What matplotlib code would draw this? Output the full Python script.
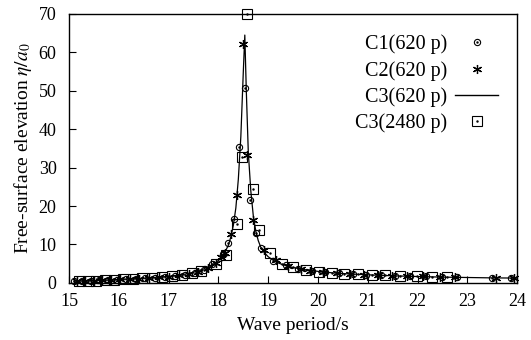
import matplotlib
matplotlib.use("Agg")
import matplotlib.pyplot as plt
from matplotlib.lines import Line2D

plt.rcParams["font.family"] = ["Liberation Serif", "DejaVu Serif"]
plt.rcParams["mathtext.fontset"] = "stix"

# C3 (620 p) - solid line
line_T = [15.1, 15.5, 16.0, 16.5, 17.0, 17.3, 17.5, 17.7, 17.9, 18.0, 18.1, 18.2, 18.25,
          18.3, 18.35, 18.4, 18.45, 18.5, 18.53, 18.56, 18.6, 18.65, 18.7, 18.75, 18.8,
          18.85, 18.9, 19.0, 19.1, 19.2, 19.3, 19.5, 19.7, 20.0, 20.3, 20.6, 21.0, 21.5,
          22.0, 22.5, 23.0, 23.5, 24.0]
line_eta = [0.5, 0.6, 0.9, 1.2, 1.7, 2.2, 2.8, 3.6, 4.9, 5.8, 7.2, 9.8, 12.0,
            15.0, 19.5, 27.0, 38.0, 55.0, 64.5, 50.0, 34.0, 24.0, 17.5, 13.5, 11.0,
            9.3, 8.2, 6.8, 5.9, 5.2, 4.7, 4.0, 3.5, 3.0, 2.6, 2.35, 2.1, 1.85,
            1.65, 1.5, 1.4, 1.3, 1.25]

# C1 (620 p) - circles
c1_T = [15.10, 15.27, 15.44, 15.61, 15.79, 15.97, 16.15, 16.34, 16.53, 16.72, 16.92, 17.12,
        17.32, 17.52, 17.72, 17.88, 18.09, 18.19, 18.31, 18.41, 18.53, 18.63, 18.76, 18.86,
        19.10, 19.35, 19.60, 19.88, 20.15, 20.43, 20.70, 20.97, 21.26, 21.54, 21.84, 22.16,
        22.50, 22.80, 23.50, 23.87]
c1_eta = [0.5, 0.55, 0.6, 0.65, 0.75, 0.85, 0.95, 1.05, 1.2, 1.35, 1.55, 1.8,
          2.1, 2.6, 3.3, 5.0, 7.5, 10.4, 16.7, 35.4, 50.8, 21.6, 13.1, 9.2,
          5.8, 4.6, 3.7, 3.1, 2.8, 2.5, 2.3, 2.15, 2.0, 1.9, 1.8, 1.7,
          1.6, 1.5, 1.35, 1.3]

# C2 (620 p) - stars
c2_T = [15.16, 15.33, 15.50, 15.67, 15.85, 16.03, 16.22, 16.41, 16.60, 16.80, 17.00, 17.20,
        17.40, 17.60, 17.80, 17.95, 18.05, 18.14, 18.25, 18.37, 18.49, 18.57, 18.70, 18.91,
        19.15, 19.40, 19.65, 19.83, 20.10, 20.38, 20.65, 20.92, 21.21, 21.49, 21.79, 22.11,
        22.45, 22.75, 23.58, 23.93]
c2_eta = [0.5, 0.55, 0.6, 0.7, 0.8, 0.9, 1.0, 1.1, 1.25, 1.45, 1.65, 1.95,
          2.3, 2.9, 3.8, 5.1, 6.8, 7.9, 12.7, 22.9, 62.2, 33.2, 16.4, 8.6,
          6.0, 4.3, 3.6, 3.1, 2.8, 2.5, 2.3, 2.15, 2.0, 1.9, 1.8, 1.7,
          1.6, 1.5, 1.35, 1.3]

# C3 (2480 p) - squares
c3_T = [15.20, 15.38, 15.55, 15.73, 15.91, 16.09, 16.28, 16.47, 16.66, 16.86, 17.06, 17.26,
        17.46, 17.66, 17.96, 18.16, 18.37, 18.47, 18.57, 18.69, 18.82, 19.03, 19.28, 19.50,
        19.76, 20.02, 20.28, 20.52, 20.81, 21.08, 21.35, 21.65, 21.98, 22.29, 22.60]
c3_eta = [0.5, 0.55, 0.6, 0.7, 0.8, 0.9, 1.0, 1.15, 1.3, 1.5, 1.7, 2.0,
          2.5, 3.1, 4.8, 7.3, 15.4, 32.8, 70.0, 24.5, 13.8, 7.7, 5.0, 4.2,
          3.4, 2.9, 2.6, 2.4, 2.2, 2.05, 1.95, 1.85, 1.75, 1.65, 1.55]

fig = plt.figure(figsize=(5.31, 3.40), dpi=100)
ax = fig.add_axes([0.130, 0.168, 0.844, 0.791])

ax.plot(line_T, line_eta, color="black", lw=0.9, zorder=2)
ax.plot(c1_T, c1_eta, ls="none", marker="o", ms=4.5, mfc="none", mec="black", mew=0.8, zorder=3, clip_on=False)
ax.plot(c1_T, c1_eta, ls="none", marker=".", ms=1.5, color="black", zorder=3, clip_on=False)
ax.plot(c2_T, c2_eta, ls="none", marker=(6, 2, 0), ms=6.5, color="black", mew=0.9, zorder=3, clip_on=False)
ax.plot(c3_T, c3_eta, ls="none", marker="s", ms=6.5, mfc="none", mec="black", mew=0.8, zorder=3, clip_on=False)
ax.plot(c3_T, c3_eta, ls="none", marker=".", ms=1.5, color="black", zorder=3, clip_on=False)

ax.set_xlim(15, 24)
ax.set_ylim(0, 70)
ax.set_xticks(range(15, 25))
ax.set_yticks(range(0, 71, 10))
ax.tick_params(direction="in", length=5, width=0.8, labelsize=13, top=False, right=False)
ax.tick_params(axis="y", pad=9)
ax.tick_params(axis="x", pad=7)
for s in ax.spines.values():
    s.set_linewidth(1.0)

ax.set_xlabel("Wave period/s", fontsize=14, labelpad=5)
ax.set_ylabel(r"Free-surface elevation $\eta/a_0$", fontsize=14, labelpad=3)

h1 = (Line2D([], [], ls="none", marker="o", ms=4.5, mfc="none", mec="black", mew=0.8),
      Line2D([], [], ls="none", marker=".", ms=1.5, color="black"))
h2 = Line2D([], [], ls="none", marker=(6, 2, 0), ms=6.5, color="black", mew=0.9)
h3 = Line2D([], [], color="black", lw=1.0)
h4 = (Line2D([], [], ls="none", marker="s", ms=6.5, mfc="none", mec="black", mew=0.8),
      Line2D([], [], ls="none", marker=".", ms=1.5, color="black"))
ax.legend([h1, h2, h3, h4], ["C1(620 p)", "C2(620 p)", "C3(620 p)", "C3(2480 p)"],
          loc="upper right", bbox_to_anchor=(0.997, 0.99), frameon=False, markerfirst=False,
          fontsize=14.5, handlelength=2.1, labelspacing=0.32, handletextpad=0.4)

fig.savefig("out.png", dpi=100)
